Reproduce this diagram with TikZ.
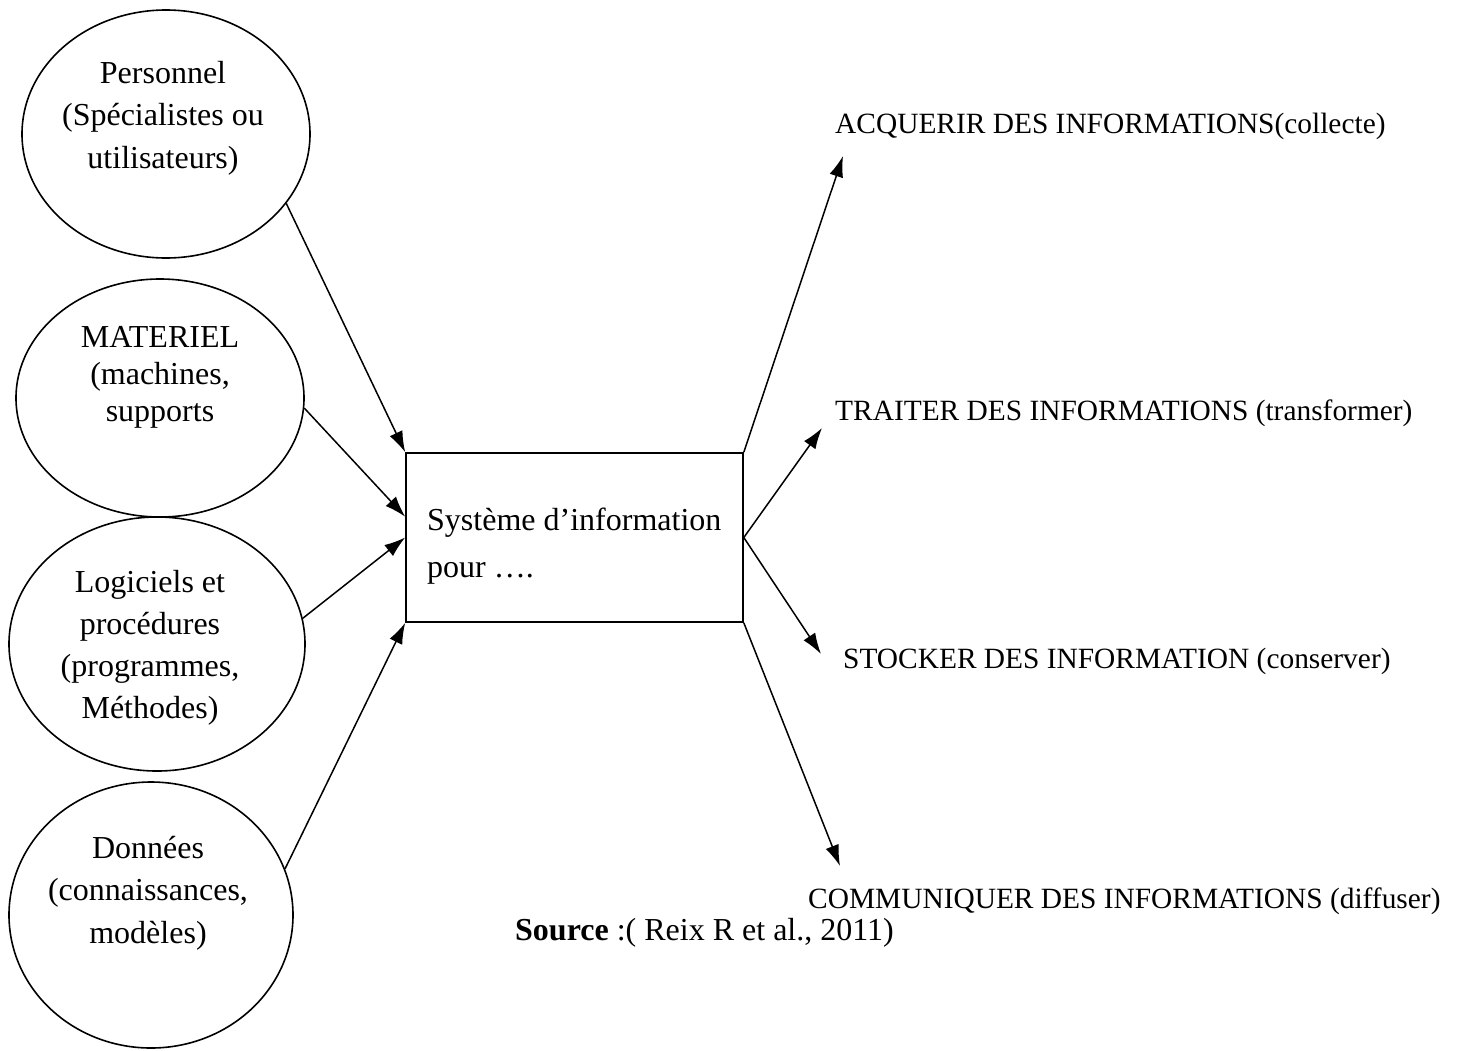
\documentclass[tikz,border=0pt]{standalone}
\usepackage{fontspec}
\setmainfont{Liberation Serif}
\usetikzlibrary{shapes.geometric,arrows.meta}
\begin{document}
\begin{tikzpicture}[x=1pt,y=-1pt,
  res/.style={draw, ellipse, line width=1.6pt, inner sep=0pt},
  lbl/.style={align=center, inner sep=0pt, anchor=north},
  task/.style={anchor=base west, inner sep=0pt, font=\fontsize{29.4}{35}\selectfont},
  feed/.style={line width=1.5pt, -{Latex[length=21pt,width=14pt]}}]
\useasboundingbox[fill=white] (0,0) rectangle (1461,1050);

% resources (left column)
\node[res, minimum width=288pt, minimum height=248pt] (e1) at (166,134) {};
\node[res, minimum width=288pt, minimum height=238pt] (e2) at (160,398) {};
\node[res, minimum width=296pt, minimum height=254pt] (e3) at (157,644) {};
\node[res, minimum width=284pt, minimum height=266pt] (e4) at (151,915) {};

\node[lbl, font=\fontsize{32}{42.5}\selectfont] (t1) at (163,53.2)
  {\strut Personnel\\(Spécialistes ou\\utilisateurs)};
\node[lbl, font=\fontsize{32}{37}\selectfont] (t2) at (160,321.1)
  {\strut MATERIEL\\(machines,\\supports};
\node[lbl, font=\fontsize{32}{42}\selectfont] (t3) at (150,562.6)
  {\strut Logiciels et\\procédures\\(programmes,\\Méthodes)};
\node[lbl, font=\fontsize{32}{42.5}\selectfont] (t4) at (148,828.2)
  {\strut Données\\(connaissances,\\modèles)};

% central system
\node[draw, line width=1.6pt, minimum width=337pt, minimum height=169pt, inner sep=0pt]
  (box) at (574.5,537.5) {};
\node[anchor=north west, align=left, inner sep=0pt, font=\fontsize{32}{47}\selectfont]
  (boxtxt) at (427,497.1) {\strut Système d’information\\pour ….};

% functions (right column)
\node[task] (fA) at (835,133) {ACQUERIR DES INFORMATIONS(collecte)};
\node[task] (fT) at (835,420) {TRAITER DES INFORMATIONS (transformer)};
\node[task] (fS) at (843,668) {STOCKER DES INFORMATION (conserver)};
\node[task] (fC) at (808,908) {COMMUNIQUER DES INFORMATIONS (diffuser)};

\coordinate (pA) at (843,156);
\coordinate (pT) at (822,428);
\coordinate (pS) at (821,654);
\coordinate (pC) at (840,866);

\node[anchor=base west, inner sep=0pt, font=\fontsize{32}{38}\selectfont] (src) at (515,940)
  {\textbf{Source} :( Reix R et al., 2011)};

% inputs
\draw[feed] (e1.-30) -- (box.north west);
\draw[feed] (e2.-4) -- (box.173.7);
\draw[feed] (e3.10) -- (box.west);
\draw[feed] (e4.19) -- (box.south west);

% outputs
\draw[feed] (box.north east) -- (pA);
\draw[feed] (box.east) -- (pT);
\draw[feed] (box.east) -- (pS);
\draw[feed] (box.south east) -- (pC);
\end{tikzpicture}
\end{document}
